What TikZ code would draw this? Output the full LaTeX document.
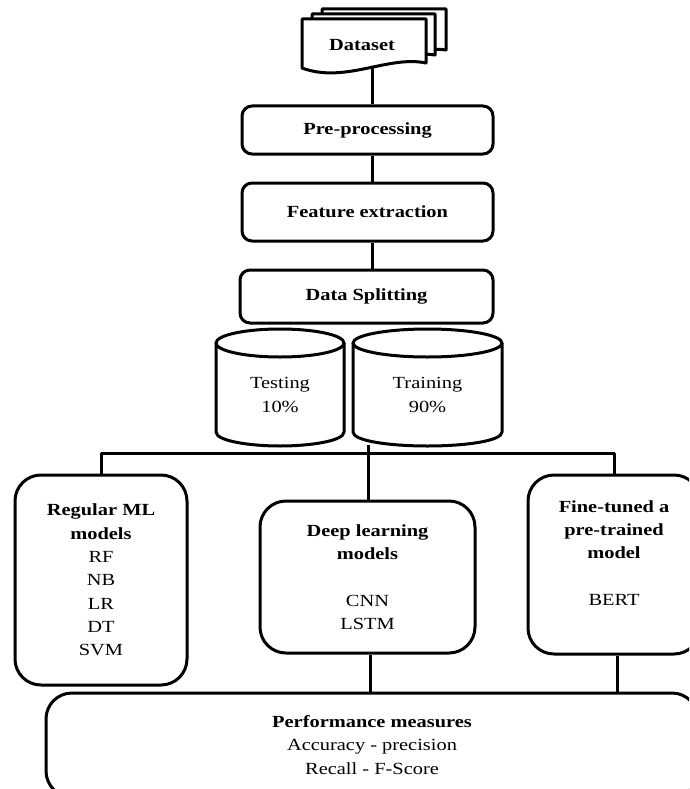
\documentclass[tikz,border=0pt]{standalone}
\usepackage{fontspec}
\setmainfont{Liberation Serif}[FakeStretch=1.2]
\newcommand\fsz{\fontsize{17}{23.3}\selectfont}
\begin{document}
\begin{tikzpicture}[x=1pt,y=-1pt,line width=3pt,line join=round,
  stepbox/.style={draw,rounded corners=10pt,inner sep=0pt,align=center,font=\fsz},
  bigbox/.style={draw,rounded corners=26pt,inner sep=0pt,align=center,font=\fsz},
  label/.style={inner sep=0pt,align=center,font=\fsz},
  doc/.style={draw,fill=white}]
\fill[white] (0,0) rectangle (689,789);
\useasboundingbox (0,0) rectangle (689,789);
\clip (0,0) rectangle (689,789);

% connector under dataset
\coordinate (dsb) at (372,60);

% process boxes
\node[stepbox,minimum width=251pt,minimum height=48pt] (pre) at (367.5,130) {\textbf{Pre-processing}};
\node[stepbox,minimum width=251pt,minimum height=58pt] (feat) at (367.5,212) {\textbf{Feature extraction}};
\node[stepbox,minimum width=253pt,minimum height=53pt] (split) at (366.5,296.5) {\textbf{Data Splitting}};

\draw (dsb) -- (dsb |- pre.north);
\draw ([xshift=4.5pt]pre.south) -- ([xshift=4.5pt]pre.south |- feat.north);
\draw ([xshift=4.5pt]feat.south) -- ([xshift=4.5pt]feat.south |- split.north);

% dataset (multi-document)
\draw[doc] (322,50) -- (322,9) -- (446,9) -- (446,50) .. controls (420,46) and (380,60) .. (322,48) -- cycle;
\draw[doc] (312,56) -- (312,14) -- (435,14) -- (435,55) .. controls (405,50) and (365,68) .. (312,56) -- cycle;
\draw[doc] (302,68) -- (302,19) -- (426,19) -- (426,63) .. controls (388,55) and (345,84) .. (302,68) -- cycle;
\node[label] (ds) at (362,45) {\textbf{Dataset}};

% cylinders
\draw[fill=white] (216,343) -- (216,432) .. controls (216,441) and (250,446) .. (280,446) .. controls (310,446) and (344,441) .. (344,432) -- (344,343);
\draw (280,343) ellipse [x radius=64, y radius=14];
\draw[fill=white] (353,343) -- (353,432) .. controls (353,441) and (390,446) .. (427.5,446) .. controls (465,446) and (502,441) .. (502,432) -- (502,343);
\draw (427.5,343) ellipse [x radius=74.5, y radius=14];
\node[label] (test) at (280,395) {Testing\\10\%};
\node[label] (train) at (427.5,395) {Training\\90\%};
\coordinate (tb) at (368,445);

% model boxes
\node[bigbox,minimum width=172pt,minimum height=210pt] (reg) at (101,580)
  {\textbf{Regular ML}\\\textbf{models}\\RF\\NB\\LR\\DT\\SVM};
\node[bigbox,minimum width=215pt,minimum height=152pt] (deep) at (367.5,577)
  {\textbf{Deep learning}\\\textbf{models}\\~\\CNN\\LSTM};
\node[bigbox,minimum width=172pt,minimum height=179pt] (fine) at (614,564.5)
  {\textbf{Fine-tuned a}\\\textbf{pre-trained}\\\textbf{model}\\~\\BERT\\~};
\node[bigbox,minimum width=652pt,minimum height=104pt] (perf) at (372,745)
  {\textbf{Performance measures}\\Accuracy - precision\\Recall - F-Score};

% bus
\coordinate (busL) at (reg.north |- 0,453);
\coordinate (busR) at (fine.north |- 0,453);
\draw (tb) -- (tb |- deep.north);
\draw (reg.north) -- (busL) -- (busR) -- (fine.north);
\draw ([xshift=3pt]deep.south) -- ([xshift=3pt]deep.south |- perf.north);
\draw ([xshift=3pt]fine.south) -- ([xshift=3pt]fine.south |- perf.north);
\end{tikzpicture}
\end{document}
